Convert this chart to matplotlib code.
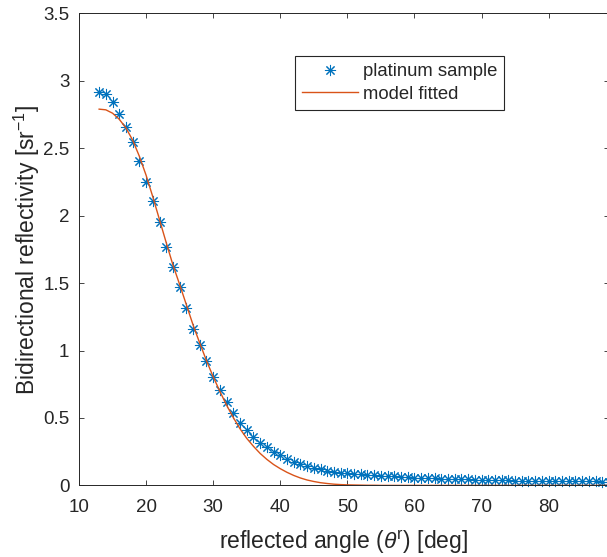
import matplotlib
matplotlib.use('Agg')
import matplotlib.pyplot as plt

plt.rcParams['font.family'] = ['Liberation Sans', 'DejaVu Sans']
plt.rcParams['mathtext.fontset'] = 'custom'
plt.rcParams['mathtext.rm'] = 'Liberation Sans'
plt.rcParams['mathtext.it'] = 'Liberation Sans:italic'

# ---- data ----
angles = list(range(13, 90))
platinum_sample = [
    2.916, 2.900, 2.840, 2.755, 2.657, 2.550, 2.409, 2.253, 2.112, 1.952,   # 13-22
    1.771, 1.618, 1.470, 1.315, 1.160, 1.041, 0.923, 0.802, 0.708, 0.621,   # 23-32
    0.535, 0.465, 0.411, 0.361, 0.317, 0.283, 0.250, 0.225, 0.196, 0.176,   # 33-42
    0.159, 0.144, 0.131, 0.119, 0.109, 0.102, 0.094, 0.090, 0.086, 0.082,   # 43-52
    0.078, 0.075, 0.071, 0.068, 0.066, 0.063, 0.060, 0.058, 0.056, 0.054,   # 53-62
    0.052, 0.050, 0.048, 0.047, 0.045, 0.044, 0.042, 0.041, 0.040, 0.039,   # 63-72
    0.038, 0.037, 0.036, 0.035, 0.034, 0.034, 0.033, 0.032, 0.032, 0.031,   # 73-82
    0.031, 0.030, 0.030, 0.029, 0.029, 0.028, 0.028,                        # 83-89
]
model_fitted = [
    2.790, 2.785, 2.760, 2.715, 2.650, 2.560, 2.440, 2.300, 2.140, 1.970,   # 13-22
    1.800, 1.635, 1.490, 1.340, 1.190, 1.055, 0.925, 0.806, 0.697, 0.595,   # 23-32
    0.503, 0.420, 0.349, 0.290, 0.237, 0.193, 0.155, 0.124, 0.097, 0.074,   # 33-42
    0.055, 0.040, 0.029, 0.020, 0.014, 0.009, 0.006, 0.004, 0.003, 0.002,   # 43-52
    0.001, 0.001, 0.0, 0.0, 0.0, 0.0, 0.0, 0.0, 0.0, 0.0,                  # 53-62
    0.0, 0.0, 0.0, 0.0, 0.0, 0.0, 0.0, 0.0, 0.0, 0.0,                       # 63-72
    0.0, 0.0, 0.0, 0.0, 0.0, 0.0, 0.0, 0.0, 0.0, 0.0,                       # 73-82
    0.0, 0.0, 0.0, 0.0, 0.0, 0.0, 0.0,                                      # 83-89
]
xticks = [10, 20, 30, 40, 50, 60, 70, 80]
xtick_labels = ['10', '20', '30', '40', '50', '60', '70', '80']
yticks = [0, 0.5, 1, 1.5, 2, 2.5, 3, 3.5]
ytick_labels = ['0', '0.5', '1', '1.5', '2', '2.5', '3', '3.5']
series_names = ['platinum sample', 'model fitted']

BLUE = '#0072BD'
RED = '#D95319'
AX = '#262626'
TXT = '#262626'

W, H = 607, 557
fig = plt.figure(figsize=(W / 100, H / 100), dpi=100)
ax = fig.add_axes([79 / W, 1 - 485.4 / H, 530 / W, 472 / H])

ax.plot(angles, platinum_sample, linestyle='none', marker=(8, 2, 0),
        markersize=8, markeredgewidth=0.75, color=BLUE,
        label=series_names[0], zorder=2, clip_on=False)
ax.plot(angles, model_fitted, color=RED, linewidth=1.0,
        label=series_names[1], zorder=3)

ax.set_xlim(10, 89)
ax.set_ylim(0, 3.5)
ax.set_xticks(xticks)
ax.set_xticklabels(xtick_labels)
ax.set_yticks(yticks)
ax.set_yticklabels(ytick_labels)

for s in ax.spines.values():
    s.set_color(AX)
    s.set_linewidth(0.7)
ax.tick_params(direction='in', length=3.6, width=0.6, colors=AX,
               labelcolor=TXT, labelsize=13.5, top=True, right=True)
ax.tick_params(axis='x', pad=9.5)
ax.tick_params(axis='y', pad=7)

ax.set_xlabel(r'reflected angle ($\theta^{\mathrm{r}}$) [deg]', fontsize=16.5,
              color=TXT, labelpad=9)
ax.set_ylabel(r'Bidirectional reflectivity [sr$^{-1}$]', fontsize=16.5,
              color=TXT, labelpad=1)

leg = ax.legend(loc='upper left', bbox_to_anchor=(0.4075, 0.9097),
                borderaxespad=0, fontsize=13.3, handlelength=3.0,
                handletextpad=0.26, borderpad=0.4, labelspacing=0.28,
                fancybox=False, framealpha=1, edgecolor=AX)
leg.get_frame().set_linewidth(0.8)
for t in leg.get_texts():
    t.set_color(TXT)

fig.savefig('out.png', dpi=100)
